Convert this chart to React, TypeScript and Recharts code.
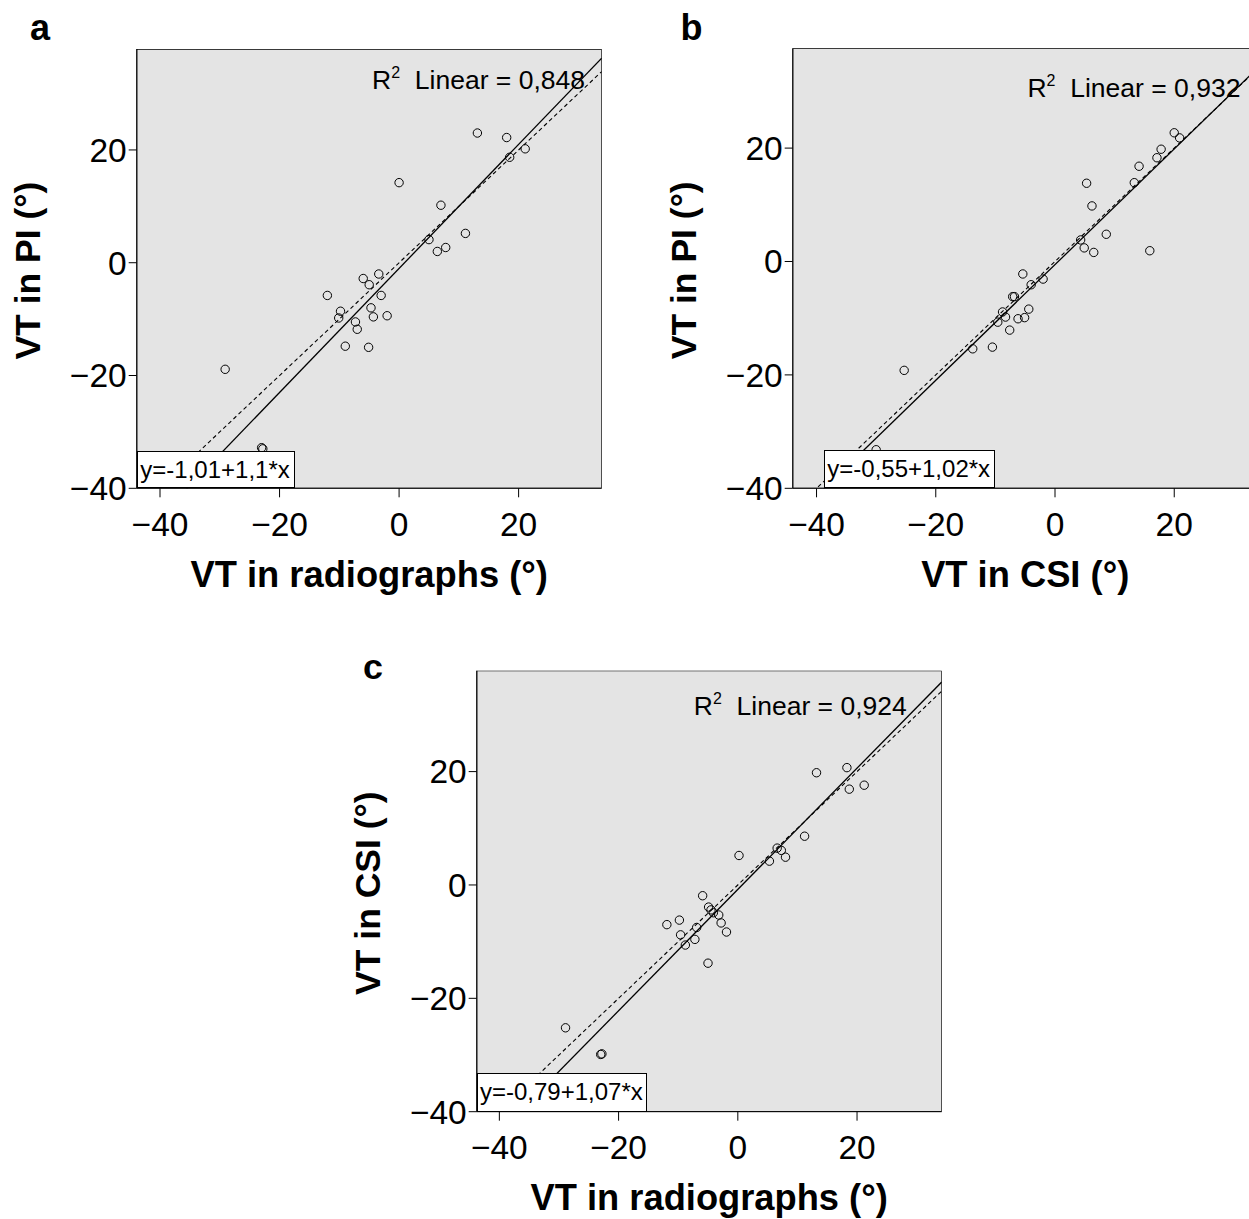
import React from "react";
import {
  ScatterChart,
  Scatter,
  XAxis,
  YAxis,
  CartesianGrid,
  ReferenceLine,
  ReferenceArea,
  Customized,
} from "recharts";

const FONT = '"Liberation Sans", Arial, sans-serif';
const PANEL_BG = "#e4e4e4";

// axis ticks shared by all three panels
const ticks = [-40, -20, 0, 20];

// panel a: radiographs (x) vs PI (y)
const radA = [13.1, 18.0, 21.1, 18.5, 0, 7.0, 5.0, 11.1, 7.8, 6.4, -3.4, -6.0, -5.0, -12.0, -3.0, -4.7, -9.8, -10.1, -4.3, -2.0, -7.3, -7.0, -9.0, -5.1, -29.1, -23.0, -22.8];
const piA = [23.0, 22.2, 20.2, 18.7, 14.2, 10.2, 4.1, 5.2, 2.7, 2.0, -2.0, -2.8, -3.9, -5.8, -5.8, -8.0, -8.6, -9.8, -9.6, -9.4, -10.5, -11.8, -14.8, -15.0, -18.9, -32.8, -33.0];

// panel b: CSI (x) vs PI (y)
const csiB = [20.0, 20.9, 17.8, 17.1, 14.1, 13.3, 5.3, 6.2, 8.6, 4.3, 4.9, 6.5, 15.9, -5.4, -2.0, -4.0, -7.1, -6.8, -4.4, -8.8, -8.3, -9.6, -6.2, -5.1, -7.6, -13.8, -10.5, -25.3, -30.0];
const piB = [22.7, 21.8, 19.8, 18.3, 16.8, 13.9, 13.8, 9.8, 4.8, 3.8, 2.4, 1.6, 1.9, -2.2, -3.1, -4.1, -6.2, -6.2, -8.4, -8.9, -9.8, -10.7, -10.1, -9.9, -12.1, -15.4, -15.1, -19.2, -33.2];

// panel c: radiographs (x) vs CSI (y)
const radC = [18.3, 13.2, 21.2, 18.7, 11.2, 0.2, 6.6, 7.3, 8.0, 5.3, -5.9, -4.9, -4.5, -4.1, -3.2, -2.8, -1.9, -11.9, -9.8, -6.9, -9.6, -7.2, -8.8, -5.0, -28.9, -22.8, -23.0];
const csiC = [20.7, 19.8, 17.6, 16.9, 8.6, 5.2, 6.5, 6.1, 4.9, 4.2, -1.9, -3.9, -4.4, -4.9, -5.3, -6.7, -8.3, -7.0, -6.2, -7.5, -8.8, -9.6, -10.6, -13.8, -25.2, -29.8, -29.9];

// fit lines as printed in the panels (intercept, slope) and R²
const fitA = { intercept: -1.01, slope: 1.1, label: "y=-1,01+1,1*x", r2: "0,848" };
const fitB = { intercept: -0.55, slope: 1.02, label: "y=-0,55+1,02*x", r2: "0,932" };
const fitC = { intercept: -0.79, slope: 1.07, label: "y=-0,79+1,07*x", r2: "0,924" };

const fmt = (v: number) => String(v).replace("-", "\u2212");

const OpenCircle = (props: any) => {
  const { cx, cy } = props;
  if (cx == null || cy == null) return null;
  return <circle cx={cx} cy={cy} r={4.2} fill="none" stroke="#000" strokeWidth={1} />;
};

type PanelProps = {
  xs: number[];
  ys: number[];
  fit: { intercept: number; slope: number; label: string; r2: string };
  xDomain: [number, number];
  yDomain: [number, number];
  xTitle: string;
  yTitle: string;
  letter: string;
  left: number;
  top: number;
  plotTop: number;
  plotBottom: number;
  r2Pos: { right: number; baseline: number };
  eqBox: { x: number; y: number; w: number; h: number };
  letterPos: { x: number; y: number };
};

const W = 620;
const Y_AXIS_W = 136.7;
const X_AXIS_H = 121.7;
const PLOT_RIGHT = 601.7;

function Panel(p: PanelProps) {
  const mTop = p.plotTop - p.top;
  const height = p.plotBottom - p.top + X_AXIS_H;
  const plotH = p.plotBottom - p.plotTop;
  const data = p.xs.map((x, i) => ({ x, y: p.ys[i] }));
  const [x0, x1] = p.xDomain;
  const fitSeg = [
    { x: x0, y: p.fit.intercept + p.fit.slope * x0 },
    { x: x1, y: p.fit.intercept + p.fit.slope * x1 },
  ];
  const idSeg = [
    { x: x0, y: x0 },
    { x: x1, y: x1 },
  ];

  return (
    <div style={{ position: "absolute", left: p.left, top: p.top, width: W, height }}>
      <ScatterChart
        width={W}
        height={height}
        margin={{ top: mTop, right: W - PLOT_RIGHT, left: 0, bottom: 0 }}
      >
        <CartesianGrid fill={PANEL_BG} horizontal={false} vertical={false} />
        <XAxis
          type="number"
          dataKey="x"
          domain={p.xDomain}
          ticks={ticks}
          allowDataOverflow
          height={X_AXIS_H}
          tickSize={9}
          tickMargin={15}
          tickFormatter={fmt}
          stroke="#000"
          tick={{ fontSize: 33.5, fill: "#000", fontFamily: FONT }}
          label={{
            content: (lp: any) => {
              const vb = lp.viewBox || {};
              return (
                <text
                  x={vb.x + vb.width / 2}
                  y={vb.y + 98.7}
                  textAnchor="middle"
                  fontFamily={FONT}
                  fontWeight="bold"
                  fontSize={36.3}
                  fill="#000"
                >
                  {p.xTitle}
                </text>
              );
            },
          }}
        />
        <YAxis
          type="number"
          dataKey="y"
          domain={p.yDomain}
          ticks={ticks}
          allowDataOverflow
          width={Y_AXIS_W}
          tickSize={8}
          tickMargin={2}
          tickFormatter={fmt}
          stroke="#000"
          tick={{ fontSize: 33.5, fill: "#000", fontFamily: FONT }}
          label={{
            content: () => {
              const cy = mTop + plotH / 2 + 2;
              return (
                <text
                  x={40}
                  y={cy}
                  transform={`rotate(-90, 40, ${cy})`}
                  textAnchor="middle"
                  fontFamily={FONT}
                  fontWeight="bold"
                  fontSize={35.5}
                  fill="#000"
                >
                  {p.yTitle}
                </text>
              );
            },
          }}
        />
        <ReferenceArea
          x1={x0}
          x2={x1}
          y1={p.yDomain[0]}
          y2={p.yDomain[1]}
          fill="none"
          fillOpacity={0}
          stroke="#000"
          strokeWidth={1.3}
          ifOverflow="hidden"
        />
        <ReferenceLine
          segment={idSeg}
          stroke="#000"
          strokeWidth={1.1}
          strokeDasharray="4 3"
          ifOverflow="hidden"
        />
        <ReferenceLine segment={fitSeg} stroke="#000" strokeWidth={1.3} ifOverflow="hidden" />
        <Scatter data={data} shape={OpenCircle} isAnimationActive={false} />
        <Customized
          component={() => (
            <g fontFamily={FONT} fill="#000">
              <text x={p.r2Pos.right} y={p.r2Pos.baseline} textAnchor="end" fontSize={26.5}>
                R
                <tspan fontSize={16} dy={-11}>
                  2
                </tspan>
                <tspan dy={11}>{"\u00a0\u00a0Linear = " + p.fit.r2}</tspan>
              </text>
              <text x={p.letterPos.x} y={p.letterPos.y} fontSize={36} fontWeight="bold">
                {p.letter}
              </text>
            </g>
          )}
        />
      </ScatterChart>
      <div
        style={{
          position: "absolute",
          left: p.eqBox.x,
          top: p.eqBox.y,
          width: p.eqBox.w,
          height: p.eqBox.h,
          boxSizing: "border-box",
          border: "1.2px solid #000",
          background: "#fff",
          fontFamily: FONT,
          fontSize: 24,
          lineHeight: "27px",
          padding: "4px 0 0 2px",
          color: "#000",
          whiteSpace: "nowrap",
        }}
      >
        {p.fit.label}
      </div>
    </div>
  );
}

export default function App() {
  return (
    <div
      style={{
        position: "absolute",
        left: 0,
        top: 0,
        width: 1249,
        height: 1219,
        overflow: "hidden",
        background: "#fff",
      }}
    >
      <Panel
        xs={radA}
        ys={piA}
        fit={fitA}
        xDomain={[-43.9, 33.9]}
        yDomain={[-40, 37.9]}
        xTitle="VT in radiographs (°)"
        yTitle="VT in PI (°)"
        letter="a"
        left={0}
        top={0}
        plotTop={49}
        plotBottom={488.3}
        r2Pos={{ right: 585, baseline: 89 }}
        eqBox={{ x: 137.3, y: 451, w: 158, h: 37.3 }}
        letterPos={{ x: 30, y: 40 }}
      />
      <Panel
        xs={csiB}
        ys={piB}
        fit={fitB}
        xDomain={[-44, 34]}
        yDomain={[-40, 37.6]}
        xTitle="VT in CSI (°)"
        yTitle="VT in PI (°)"
        letter="b"
        left={655.6}
        top={0}
        plotTop={48.3}
        plotBottom={488.3}
        r2Pos={{ right: 584.4, baseline: 96.7 }}
        eqBox={{ x: 168.7, y: 450, w: 170.7, h: 38.3 }}
        letterPos={{ x: 24.4, y: 40 }}
      />
      <Panel
        xs={radC}
        ys={csiC}
        fit={fitC}
        xDomain={[-43.8, 34.2]}
        yDomain={[-40, 37.8]}
        xTitle="VT in radiographs (°)"
        yTitle="VT in CSI (°)"
        letter="c"
        left={340}
        top={620}
        plotTop={670.7}
        plotBottom={1111.7}
        r2Pos={{ right: 566.7, baseline: 95 }}
        eqBox={{ x: 137, y: 453, w: 170, h: 38.7 }}
        letterPos={{ x: 23, y: 59 }}
      />
    </div>
  );
}
